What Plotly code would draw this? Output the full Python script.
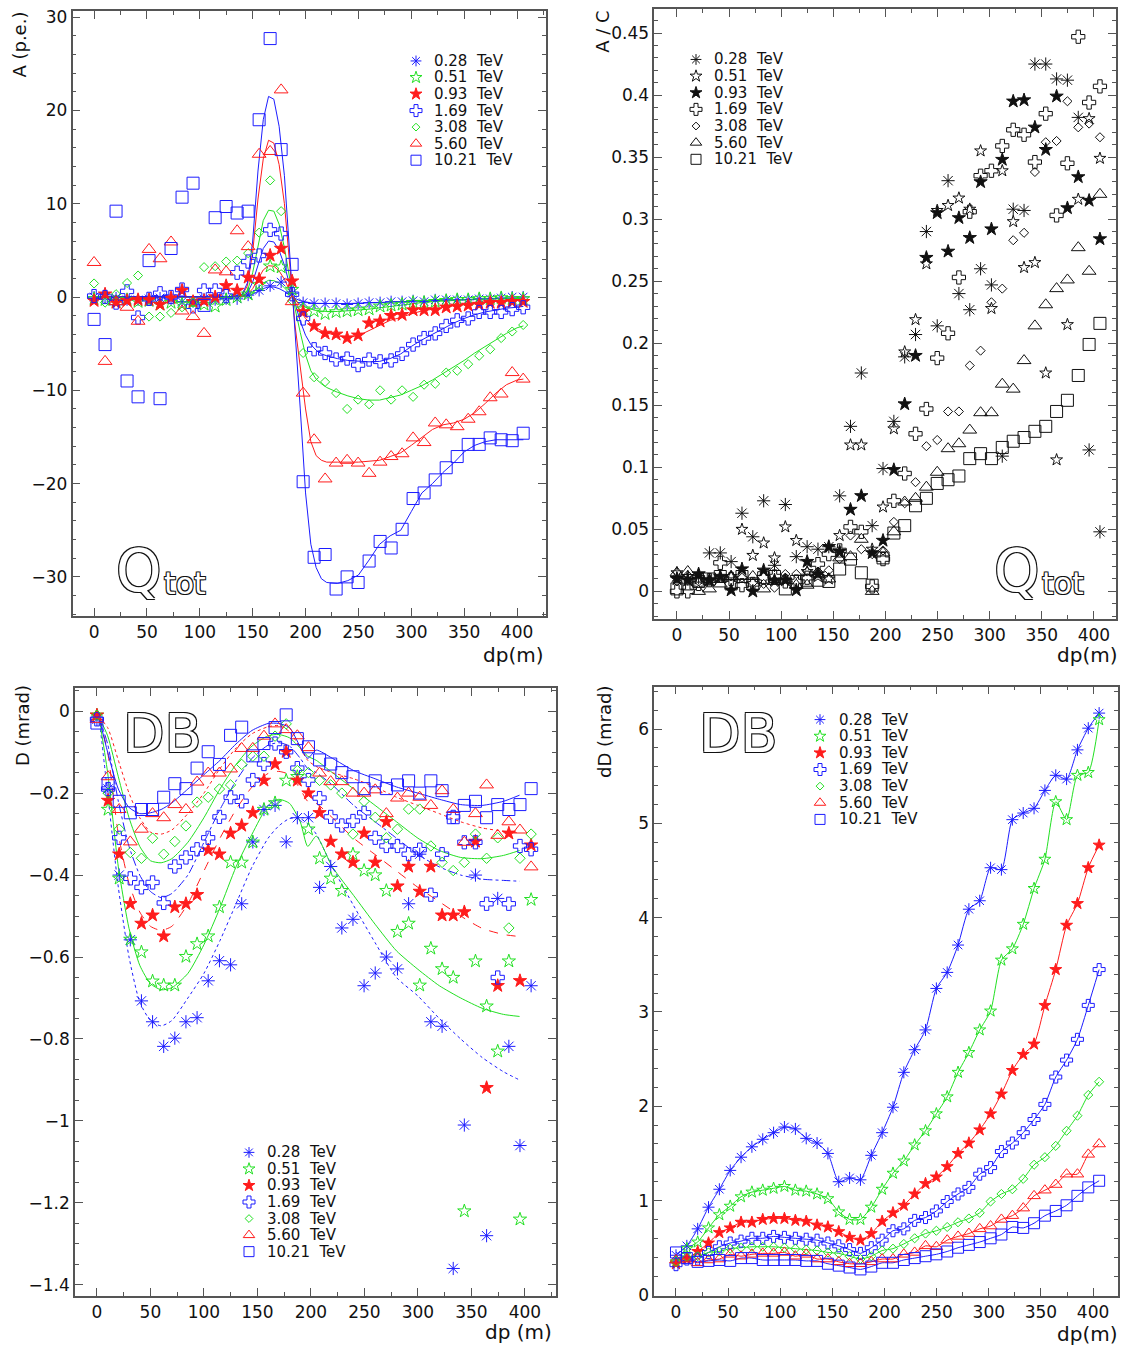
import plotly.graph_objects as go

# ---------------- data ----------------
X = [0, 10.4, 20.8, 31.2, 41.6, 52.0, 62.4, 72.8, 83.2, 93.6, 104.0, 114.5, 124.9, 135.3,
     145.7, 156.1, 166.5, 176.9, 187.3, 197.7, 208.1, 218.5, 228.9, 239.3, 249.7, 260.1,
     270.5, 280.9, 291.3, 301.7, 312.1, 322.6, 333.0, 343.4, 353.8, 364.2, 374.6, 385.0,
     395.4, 405.8]

LABELS = ["0.28  TeV", "0.51  TeV", "0.93  TeV", "1.69  TeV", "3.08  TeV", "5.60  TeV", "10.21  TeV"]

# Panel 1: A (p.e.) -- Qtot
A_028 = [0.0, -0.1, -0.1, -0.3, -0.3, -0.2, -0.1, -0.2, -0.5, -0.5, -0.2, -0.3, -0.2, -0.2, 0.2, 0.7, 1.2, 1.6, 0.4, -0.6,
         -0.7, -0.7, -0.7, -0.8, -0.7, -0.6, -0.6, -0.5, -0.5, -0.4, -0.5, -0.3, -0.3, -0.3, -0.3, -0.2, -0.2, -0.1, 0.0, 0.0]
A_051 = [-0.2, -0.3, -0.5, -0.3, -0.5, -0.4, -0.8, -0.6, -0.8, -0.6, -0.8, -1.0, -0.3, 0.0, 0.3, 1.3, 3.3, 3.2, 0.8, -1.3,
         -1.5, -1.8, -1.6, -1.5, -1.4, -1.3, -1.0, -0.9, -0.8, -0.6, -0.6, -0.5, -0.4, -0.3, -0.3, -0.2, -0.2, -0.1, -0.2, -0.2]
A_093 = [-0.4, 0.3, -0.6, -0.4, -0.3, -0.3, -0.8, -0.1, 0.7, -0.5, -0.4, 0.0, 1.2, 0.7, 2.1, 1.9, 4.45, 5.2, 1.7, -1.6,
         -3.1, -3.9, -4.0, -4.4, -4.1, -2.8, -2.6, -2.0, -1.9, -1.4, -1.4, -1.4, -1.1, -1.0, -0.9, -0.8, -0.6, -0.6, -0.5, -0.5]
A_169 = [0.1, 0.0, -0.6, 0.6, -2.2, -0.2, 0.4, 0.0, 0.8, -1.0, 0.7, 0.7, 0.1, 2.6, 3.8, 4.45, 7.2, 6.8, 0.3, -2.3,
         -5.6, -6.0, -6.7, -6.6, -7.3, -6.7, -6.9, -6.8, -6.1, -5.1, -4.4, -3.9, -3.1, -2.5, -2.3, -1.6, -1.6, -1.6, -1.3, -1.1]
A_308 = [1.45, -0.6, 0.3, 1.5, 2.3, -2.1, -2.1, -1.7, -1.1, -0.6, 3.2, 3.3, 3.8, 3.9, 4.7, 6.9, 12.5, 9.2, -0.4, -6.0,
         -8.6, -9.1, -10.3, -12.0, -11.0, -11.5, -10.0, -11.0, -10.0, -10.7, -9.4, -9.3, -8.1, -7.9, -7.2, -6.3, -5.6, -4.4, -3.7, -3.0]
A_560 = [3.7, -6.9, -0.5, -1.1, -2.6, 5.1, 4.1, 5.9, -1.5, -2.1, -3.9, 2.9, 2.7, 7.1, 5.4, 15.3, 15.6, 22.2, -0.5, -10.3,
         -15.3, -19.5, -17.8, -17.5, -17.8, -18.9, -17.7, -17.1, -16.8, -15.1, -15.6, -13.5, -13.7, -13.9, -13.1, -12.3, -10.8, -10.4, -8.1, -8.8]
A_1021 = [-2.4, -5.1, 9.2, -9.0, -10.7, 3.9, -10.9, 5.2, 10.7, 12.2, -0.9, 8.5, 9.7, 9.0, 9.2, 19.0, 27.7, 15.8, 3.5, -19.8,
          -27.9, -27.6, -31.3, -30.0, -30.6, -28.3, -26.2, -26.9, -24.9, -21.6, -21.0, -19.6, -18.3, -17.1, -15.8, -15.8, -15.1, -15.3, -15.4, -14.6]

FIT_A_X = [0, 50, 100, 120, 130, 140, 145, 150, 155, 160, 165, 170, 175, 180, 185, 190, 195, 200, 205, 210, 215,
           220, 230, 240, 250, 260, 270, 280, 290, 300, 310, 320, 330, 340, 350, 360, 370, 380, 390, 400, 406]
FA_028 = [0, 0, 0, 0, 0.0, 0.02, 0.1, 0.3, 0.6, 0.9, 1.08, 1.07, 0.9, 0.6, 0.2, -0.15, -0.4, -0.55, -0.63, -0.68, -0.7,
          -0.7, -0.7, -0.7, -0.66, -0.62, -0.57, -0.52, -0.47, -0.42, -0.37, -0.33, -0.29, -0.26, -0.23, -0.2, -0.18, -0.16, -0.14, -0.12, -0.1]
FA_051 = [0, 0, 0, 0, 0.0, 0.03, 0.15, 0.5, 1.0, 1.5, 1.78, 1.75, 1.5, 1.0, 0.35, -0.3, -0.8, -1.1, -1.3, -1.45, -1.5,
          -1.55, -1.55, -1.5, -1.4, -1.3, -1.15, -1.0, -0.85, -0.7, -0.6, -0.5, -0.42, -0.36, -0.3, -0.25, -0.22, -0.2, -0.18, -0.16, -0.15]
FA_093 = [0, 0, 0, 0, 0.01, 0.05, 0.25, 0.9, 1.9, 2.9, 3.35, 3.3, 2.8, 1.9, 0.7, -0.5, -1.5, -2.3, -2.9, -3.3, -3.6,
          -3.85, -4.15, -4.3, -4.15, -3.6, -3.0, -2.5, -2.2, -1.8, -1.5, -1.3, -1.1, -0.9, -0.75, -0.6, -0.5, -0.4, -0.35, -0.3, -0.3]
FA_169 = [0, 0, 0, 0, 0.02, 0.1, 0.4, 1.6, 3.5, 5.2, 6.0, 5.9, 5.0, 3.4, 1.3, -0.8, -2.6, -4.1, -5.1, -5.7, -6.1,
          -6.3, -6.6, -6.8, -6.9, -6.95, -6.9, -6.6, -6.1, -5.3, -4.6, -4.0, -3.4, -2.8, -2.3, -1.9, -1.6, -1.4, -1.2, -1.1, -1.0]
FA_308 = [0, 0, 0, 0, 0.02, 0.1, 0.6, 2.6, 5.6, 8.2, 9.3, 9.2, 7.8, 5.3, 2.0, -1.2, -3.8, -6.2, -7.9, -8.8, -9.3,
          -9.7, -10.2, -10.6, -10.9, -11.05, -11.05, -10.8, -10.5, -10.0, -9.5, -8.9, -8.2, -7.5, -6.8, -6.0, -5.3, -4.6, -3.9, -3.3, -3.1]
FA_560 = [0, 0, 0, 0, 0.03, 0.2, 1.2, 4.8, 10.5, 14.8, 16.8, 16.5, 14.2, 10.0, 3.8, -3.0, -7.5, -12.0, -15.5, -17.0, -17.5,
          -17.7, -17.7, -17.7, -17.7, -17.6, -17.5, -17.1, -16.7, -15.9, -15.0, -14.2, -13.7, -13.5, -13.1, -12.4, -11.4, -10.3, -9.4, -8.9, -8.8]
FA_1021 = [0, 0, 0, 0, 0.05, 0.3, 1.5, 6.0, 13.5, 19.0, 21.5, 21.2, 18.3, 13.0, 5.0, -3.0, -12.0, -21.0, -26.5, -29.0, -30.2,
           -30.6, -30.7, -30.4, -29.8, -28.2, -26.5, -25.6, -25.0, -23.0, -21.0, -20.0, -18.8, -17.8, -16.6, -15.9, -15.5, -15.3, -15.3, -15.3, -15.3]

# Panel 2: A / C -- Qtot
AC_028 = [0.012, 0.010, 0.011, 0.031, 0.031, 0.024, 0.063, 0.044, 0.073, 0.021, 0.070, 0.028, 0.036, 0.034, 0.036, 0.077, 0.133, 0.176, 0.053, 0.099,
          0.137, 0.189, 0.207, 0.290, 0.214, 0.331, 0.240, 0.227, 0.260, 0.247, 0.109, 0.308, 0.307, 0.425, 0.425, 0.413, 0.412, 0.382, 0.114, 0.048]
AC_051 = [0.015, 0.012, 0.010, 0.009, 0.011, 0.012, 0.050, 0.029, 0.039, 0.027, 0.052, 0.041, 0.016, 0.012, 0.010, 0.045, 0.118, 0.118, 0.034, 0.068,
          0.131, 0.193, 0.219, 0.264, 0.307, 0.311, 0.317, 0.308, 0.355, 0.228, 0.339, 0.298, 0.261, 0.265, 0.176, 0.106, 0.215, 0.316, 0.381, 0.349]
AC_093 = [0.010, 0.009, 0.014, 0.009, 0.012, 0.001, 0.018, 0.000, 0.017, 0.009, 0.009, 0.001, 0.024, 0.014, 0.036, 0.032, 0.066, 0.077, 0.031, 0.041,
          0.098, 0.151, 0.190, 0.269, 0.305, 0.274, 0.301, 0.285, 0.330, 0.292, 0.348, 0.395, 0.396, 0.374, 0.356, 0.399, 0.309, 0.334, 0.315, 0.284]
AC_169 = [0.000, 0.000, 0.006, 0.009, 0.023, 0.010, 0.005, 0.006, 0.011, 0.012, 0.008, 0.008, 0.011, 0.022, 0.030, 0.033, 0.052, 0.048, 0.004, 0.026,
          0.073, 0.095, 0.127, 0.147, 0.188, 0.208, 0.253, 0.306, 0.335, 0.339, 0.359, 0.372, 0.368, 0.346, 0.385, 0.303, 0.345, 0.447, 0.394, 0.407]
AC_308 = [0.008, 0.013, 0.008, 0.009, 0.011, 0.012, 0.011, 0.007, 0.006, 0.003, 0.014, 0.014, 0.016, 0.016, 0.017, 0.026, 0.045, 0.034, 0.030, 0.033,
          0.056, 0.071, 0.088, 0.117, 0.122, 0.145, 0.145, 0.182, 0.194, 0.233, 0.244, 0.283, 0.289, 0.338, 0.362, 0.363, 0.395, 0.374, 0.377, 0.366]
AC_560 = [0.015, 0.016, 0.000, 0.002, 0.006, 0.012, 0.012, 0.012, 0.002, 0.008, 0.010, 0.005, 0.005, 0.014, 0.010, 0.027, 0.028, 0.042, 0.000, 0.031,
          0.048, 0.072, 0.075, 0.084, 0.096, 0.115, 0.119, 0.130, 0.144, 0.144, 0.167, 0.163, 0.186, 0.214, 0.231, 0.244, 0.251, 0.277, 0.258, 0.320]
AC_1021 = [0.002, 0.006, 0.008, 0.010, 0.012, 0.006, 0.012, 0.006, 0.011, 0.012, 0.002, 0.008, 0.009, 0.009, 0.008, 0.018, 0.026, 0.015, 0.005, 0.027,
           0.047, 0.053, 0.069, 0.075, 0.087, 0.090, 0.093, 0.107, 0.111, 0.107, 0.116, 0.121, 0.124, 0.129, 0.133, 0.145, 0.154, 0.174, 0.199, 0.216]

# Panel 3: D (mrad) -- DB
D_028 = [-0.02, -0.19, -0.40, -0.558, -0.707, -0.758, -0.818, -0.798, -0.758, -0.748, -0.658, -0.609, -0.619, -0.470, -0.319, -0.240, -0.230, -0.319, -0.260, -0.260,
         -0.430, -0.379, -0.529, -0.508, -0.670, -0.639, -0.60, -0.629, -0.470, -0.349, -0.758, -0.769, -1.36, -1.01, -0.40, -1.28, -0.457, -0.818, -1.06, -0.67]
D_051 = [-0.01, -0.24, -0.408, -0.557, -0.588, -0.659, -0.669, -0.669, -0.599, -0.568, -0.549, -0.478, -0.369, -0.369, -0.32, -0.24, -0.224, -0.169, -0.16, -0.288,
         -0.359, -0.408, -0.438, -0.349, -0.389, -0.40, -0.438, -0.538, -0.518, -0.669, -0.579, -0.629, -0.65, -1.22, -0.61, -0.72, -0.83, -0.61, -1.24, -0.46]
D_093 = [-0.01, -0.218, -0.349, -0.47, -0.518, -0.498, -0.549, -0.478, -0.47, -0.448, -0.339, -0.349, -0.298, -0.279, -0.248, -0.169, -0.129, -0.099, -0.169, -0.20,
         -0.248, -0.318, -0.349, -0.369, -0.298, -0.369, -0.27, -0.427, -0.379, -0.44, -0.379, -0.498, -0.498, -0.49, -0.318, -0.919, -0.67, -0.298, -0.658, -0.327]
D_169 = [-0.02, -0.19, -0.309, -0.408, -0.43, -0.418, -0.468, -0.379, -0.357, -0.337, -0.309, -0.258, -0.21, -0.22, -0.168, -0.129, -0.079, -0.099, -0.139, -0.168,
         -0.212, -0.258, -0.279, -0.268, -0.248, -0.309, -0.329, -0.329, -0.349, -0.338, -0.448, -0.349, -0.258, -0.32, -0.32, -0.47, -0.65, -0.47, -0.329, -0.337]
D_308 = [-0.01, -0.2, -0.288, -0.345, -0.359, -0.31, -0.349, -0.318, -0.28, -0.222, -0.21, -0.19, -0.18, -0.13, -0.11, -0.11, -0.061, -0.031, -0.145, -0.15,
         -0.169, -0.18, -0.2, -0.30, -0.22, -0.259, -0.309, -0.288, -0.239, -0.239, -0.329, -0.369, -0.389, -0.369, -0.30, -0.359, -0.309, -0.529, -0.359, -0.30]
D_560 = [-0.02, -0.16, -0.24, -0.319, -0.288, -0.25, -0.26, -0.228, -0.24, -0.173, -0.151, -0.151, -0.141, -0.091, -0.091, -0.061, -0.031, -0.045, -0.06, -0.089,
         -0.151, -0.172, -0.172, -0.2, -0.2, -0.192, -0.25, -0.212, -0.2, -0.21, -0.23, -0.194, -0.24, -0.32, -0.25, -0.18, -0.303, -0.27, -0.29, -0.38]
D_1021 = [-0.029, -0.177, -0.22, -0.248, -0.24, -0.24, -0.21, -0.177, -0.189, -0.139, -0.099, -0.13, -0.059, -0.039, -0.109, -0.079, -0.04, -0.009, -0.067, -0.087,
          -0.119, -0.129, -0.15, -0.16, -0.189, -0.17, -0.189, -0.18, -0.17, -0.2, -0.17, -0.194, -0.26, -0.23, -0.22, -0.26, -0.228, -0.24, -0.228, -0.189]

FIT_D_X = [2, 10, 20, 30, 40, 50, 60, 70, 85, 100, 115, 130, 145, 160, 170, 180, 190, 197, 205, 220, 240, 260, 280, 300, 320, 340, 360, 380, 395]
FD_028 = [-0.015, -0.2, -0.43, -0.6, -0.71, -0.755, -0.768, -0.755, -0.70, -0.64, -0.56, -0.47, -0.38, -0.31, -0.28, -0.262, -0.262, -0.275, -0.30,
          -0.38, -0.475, -0.565, -0.65, -0.695, -0.75, -0.80, -0.845, -0.88, -0.90]
FD_051 = [-0.015, -0.15, -0.38, -0.53, -0.62, -0.665, -0.68, -0.675, -0.64, -0.57, -0.48, -0.38, -0.30, -0.23, -0.215, -0.225, -0.27, -0.33, -0.305,
          -0.38, -0.45, -0.52, -0.585, -0.63, -0.67, -0.70, -0.725, -0.74, -0.745]
FD_093 = [-0.015, -0.1, -0.3, -0.42, -0.49, -0.525, -0.535, -0.525, -0.47, -0.39, -0.31, -0.24, -0.185, -0.152, -0.147, -0.155, -0.19, -0.22, -0.225,
          -0.26, -0.31, -0.35, -0.39, -0.43, -0.465, -0.50, -0.53, -0.545, -0.55]
FD_169 = [-0.015, -0.08, -0.22, -0.33, -0.40, -0.44, -0.455, -0.445, -0.40, -0.32, -0.24, -0.17, -0.115, -0.083, -0.077, -0.085, -0.115, -0.14, -0.15,
          -0.18, -0.23, -0.27, -0.31, -0.35, -0.38, -0.40, -0.41, -0.413, -0.415]
FD_308 = [-0.015, -0.06, -0.16, -0.26, -0.33, -0.365, -0.37, -0.36, -0.32, -0.26, -0.19, -0.13, -0.085, -0.06, -0.057, -0.065, -0.09, -0.11, -0.12,
          -0.15, -0.19, -0.23, -0.27, -0.31, -0.34, -0.357, -0.36, -0.352, -0.34]
FD_560 = [-0.015, -0.04, -0.12, -0.2, -0.26, -0.295, -0.30, -0.29, -0.25, -0.2, -0.14, -0.09, -0.055, -0.038, -0.035, -0.05, -0.09, -0.12, -0.135,
          -0.15, -0.165, -0.185, -0.21, -0.23, -0.25, -0.27, -0.285, -0.293, -0.297]
FD_1021 = [-0.015, -0.1, -0.19, -0.235, -0.25, -0.248, -0.24, -0.224, -0.19, -0.155, -0.12, -0.08, -0.047, -0.03, -0.03, -0.04, -0.087, -0.115, -0.095,
           -0.115, -0.145, -0.165, -0.185, -0.2, -0.215, -0.228, -0.23, -0.22, -0.205]

# Panel 4: dD (mrad) -- DB
DD_028 = [0.42, 0.52, 0.70, 0.93, 1.12, 1.32, 1.46, 1.57, 1.65, 1.72, 1.78, 1.76, 1.66, 1.61, 1.50, 1.20, 1.24, 1.22, 1.48, 1.72,
          1.99, 2.36, 2.60, 2.81, 3.25, 3.42, 3.71, 4.09, 4.18, 4.53, 4.51, 5.04, 5.11, 5.16, 5.35, 5.51, 5.47, 5.78, 6.01, 6.17]
DD_051 = [0.35, 0.49, 0.56, 0.71, 0.85, 0.94, 1.04, 1.09, 1.11, 1.13, 1.15, 1.11, 1.10, 1.07, 1.02, 0.88, 0.80, 0.80, 0.93, 1.12,
          1.29, 1.42, 1.59, 1.74, 1.92, 2.10, 2.36, 2.57, 2.81, 3.01, 3.55, 3.67, 3.93, 4.31, 4.62, 5.23, 5.04, 5.51, 5.54, 6.10]
DD_093 = [0.33, 0.38, 0.46, 0.55, 0.66, 0.71, 0.77, 0.77, 0.80, 0.81, 0.81, 0.79, 0.78, 0.74, 0.72, 0.67, 0.61, 0.58, 0.65, 0.78,
          0.87, 0.95, 1.07, 1.18, 1.25, 1.36, 1.50, 1.61, 1.75, 1.92, 2.13, 2.38, 2.55, 2.66, 3.07, 3.45, 3.92, 4.15, 4.53, 4.77]
DD_169 = [0.32, 0.38, 0.38, 0.45, 0.51, 0.55, 0.57, 0.60, 0.60, 0.62, 0.61, 0.60, 0.59, 0.58, 0.55, 0.52, 0.48, 0.44, 0.50, 0.58,
          0.68, 0.70, 0.79, 0.82, 0.89, 0.99, 1.07, 1.14, 1.28, 1.35, 1.52, 1.61, 1.72, 1.86, 2.02, 2.31, 2.49, 2.71, 3.07, 3.45]
DD_308 = [0.35, 0.40, 0.41, 0.45, 0.46, 0.49, 0.50, 0.51, 0.51, 0.51, 0.50, 0.49, 0.48, 0.47, 0.45, 0.44, 0.41, 0.38, 0.41, 0.47,
          0.49, 0.54, 0.60, 0.65, 0.68, 0.72, 0.77, 0.81, 0.87, 0.99, 1.07, 1.12, 1.23, 1.38, 1.46, 1.58, 1.74, 1.90, 2.12, 2.26]
DD_560 = [0.37, 0.38, 0.34, 0.37, 0.38, 0.43, 0.41, 0.43, 0.44, 0.44, 0.45, 0.41, 0.43, 0.38, 0.38, 0.35, 0.33, 0.33, 0.35, 0.38,
          0.38, 0.43, 0.45, 0.52, 0.51, 0.58, 0.62, 0.65, 0.70, 0.73, 0.80, 0.84, 0.92, 1.05, 1.11, 1.17, 1.28, 1.28, 1.49, 1.60]
DD_1021 = [0.45, 0.39, 0.35, 0.36, 0.37, 0.36, 0.39, 0.39, 0.37, 0.37, 0.37, 0.37, 0.36, 0.36, 0.33, 0.31, 0.29, 0.27, 0.30, 0.34,
           0.34, 0.37, 0.39, 0.41, 0.43, 0.46, 0.50, 0.53, 0.56, 0.60, 0.64, 0.72, 0.71, 0.76, 0.84, 0.89, 0.95, 1.05, 1.14, 1.21]

# ---------------- styles ----------------
W, H = 1125, 1357
BLUE, GREEN, RED, BLACK = "#1c1cff", "#22e022", "#ff1c1c", "#111111"
COLORS = [BLUE, GREEN, RED, BLUE, GREEN, RED, BLUE]
SYMBOLS = ["asterisk-open", "star-open", "star", "cross-open", "diamond-open", "triangle-up-open", "square-open"]
FIT_DASH_D = ["dot", "solid", "dash", "dashdot", "solid", "dot", "solid"]
FONT = "DejaVu Sans"
FRAME = "#555555"

fig = go.Figure()


def add_markers(series, xa, ya, colors, sizes):
    for k, ys in enumerate(series):
        fig.add_trace(go.Scatter(
            x=X, y=ys, mode="markers", xaxis=xa, yaxis=ya, showlegend=False, hoverinfo="skip",
            marker=dict(symbol=SYMBOLS[k], size=sizes[k], color=colors[k],
                        line=dict(width=1, color=colors[k]))))


def add_lines(xs, series, xa, ya, colors, dashes, shape="linear"):
    for k, ys in enumerate(series):
        fig.add_trace(go.Scatter(
            x=xs, y=ys, mode="lines", xaxis=xa, yaxis=ya, showlegend=False, hoverinfo="skip",
            line=dict(color=colors[k], width=1, dash=dashes[k], shape=shape,
                      smoothing=0.6 if shape == "spline" else None)))


# Panel 1
add_lines(FIT_A_X, [FA_028, FA_051, FA_093, FA_169, FA_308, FA_560, FA_1021], "x", "y", COLORS, ["solid"] * 7)
add_markers([A_028, A_051, A_093, A_169, A_308, A_560, A_1021], "x", "y", COLORS, [10, 10, 10, 11, 7, 12, 12])
# Panel 2
add_markers([AC_028, AC_051, AC_093, AC_169, AC_308, AC_560, AC_1021], "x2", "y2", [BLACK] * 7, [11, 9, 10, 11, 7, 12, 12])
# Panel 3
add_lines(FIT_D_X, [FD_028, FD_051, FD_093, FD_169, FD_308, FD_560, FD_1021], "x3", "y3", COLORS, FIT_DASH_D, "spline")
add_markers([D_028, D_051, D_093, D_169, D_308, D_560, D_1021], "x3", "y3", COLORS, [11, 10, 10, 11, 8, 12, 12])
# Panel 4
DD_ALL = [DD_028, DD_051, DD_093, DD_169, DD_308, DD_560, DD_1021]
add_lines(X, DD_ALL, "x4", "y4", COLORS, ["solid"] * 7, "spline")
add_markers(DD_ALL, "x4", "y4", COLORS, [10, 9, 9, 10, 7, 11, 11])

# ---------------- legends (overlay pixel axis) ----------------
LEGENDS = [  # marker x, text x, first row y, row step, colors
    (416, 432, 57.5, 16.7, COLORS),
    (696, 712, 56.0, 16.8, [BLACK] * 7),
    (249, 265, 1159.5, 16.7, COLORS),
    (820, 837, 722.5, 16.8, COLORS),
]
annotations = []
for mx, tx, y0, dy, cols in LEGENDS:
    ys = [y0 + dy * k for k in range(7)]
    for k in range(7):
        fig.add_trace(go.Scatter(
            x=[mx], y=[ys[k]], mode="markers", xaxis="x5", yaxis="y5", showlegend=False, hoverinfo="skip",
            marker=dict(symbol=SYMBOLS[k], size=[9, 9, 9, 10, 6, 10, 10][k], color=cols[k],
                        line=dict(width=1, color=cols[k]))))
        annotations.append(dict(x=tx / W, y=1 - ys[k] / H, xref="paper", yref="paper", xanchor="left",
                                yanchor="middle", showarrow=False, text=LABELS[k].replace("  ", "\u00a0 "),
                                font=dict(family=FONT, size=15, color="#111")))


def ann(text, x, y, size, xanchor="center", yanchor="middle", angle=0, outline=False):
    f = dict(family=FONT, size=size, color="#111")
    if outline:
        f = dict(family=FONT, size=size, color="white",
                 shadow="1px 1px 0 #111, -1px -1px 0 #111, 1px -1px 0 #111, -1px 1px 0 #111")
    annotations.append(dict(x=x / W, y=1 - y / H, xref="paper", yref="paper", text=text, showarrow=False,
                            xanchor=xanchor, yanchor=yanchor, textangle=angle, font=f))


# axis titles
ann("A (p.e.)", 20, 41, 18, angle=-90)
ann("A / C", 603, 28, 18, angle=-90)
ann("D (mrad)", 22, 729, 18, angle=-90)
ann("dD (mrad)", 605, 735, 18, angle=-90)
ann("dp(m)", 545, 657, 20, xanchor="right")
ann("dp(m)", 1119, 657, 20, xanchor="right")
ann("dp (m)", 554, 1341, 20, xanchor="right")
ann("dp(m)", 1119, 1343, 20, xanchor="right")
# panel labels
ann("Q", 139, 572, 58, outline=True)
ann("tot", 162, 585, 30, xanchor="left", outline=True)
ann("Q", 1017, 572, 58, outline=True)
ann("tot", 1040, 585, 30, xanchor="left", outline=True)
ann("DB", 162, 737, 54, outline=True)
ann("DB", 738, 737, 54, outline=True)


def axis(domain, rng, dtick, minor, anchor):
    return dict(domain=domain, range=rng, anchor=anchor, dtick=dtick, tick0=0,
                showline=True, linecolor=FRAME, linewidth=1.5, mirror="allticks",
                ticks="inside", ticklen=8, tickwidth=1, tickcolor=FRAME,
                minor=dict(ticks="inside", ticklen=4, dtick=minor, tick0=0, tickcolor=FRAME, tickwidth=1),
                showgrid=False, zeroline=False,
                tickfont=dict(family=FONT, size=17, color="#111"))


fig.update_layout(
    width=W, height=H, margin=dict(l=0, r=0, t=0, b=0),
    paper_bgcolor="white", plot_bgcolor="rgba(0,0,0,0)", showlegend=False,
    xaxis=axis([72.6 / W, 545.6 / W], [-20.3, 427], 50, 25, "y"),
    yaxis=axis([1 - 618 / H, 1 - 7.3 / H], [-34.2, 30.63], 10, 2, "x"),
    xaxis2=axis([654.2 / W, 1116 / W], [-21.8, 421.2], 50, 25, "y2"),
    yaxis2=axis([1 - 621 / H, 1 - 5 / H], [-0.0223, 0.4694], 0.05, 0.01, "x2"),
    xaxis3=axis([75 / W, 555.5 / W], [-20.5, 428.6], 50, 25, "y3"),
    yaxis3=axis([1 - 1304 / H, 1 - 691 / H], [-1.426, 0.0556], 0.2, 0.05, "x3"),
    xaxis4=axis([654.3 / W, 1118 / W], [-20.8, 423.9], 50, 25, "y4"),
    yaxis4=axis([1 - 1304.3 / H, 1 - 689.3 / H], [-0.01, 6.45], 1, 0.2, "x4"),
    xaxis5=dict(domain=[0, 1], range=[0, W], visible=False, anchor="y5", fixedrange=True),
    yaxis5=dict(domain=[0, 1], range=[H, 0], visible=False, anchor="x5", fixedrange=True),
    annotations=annotations,
)

fig.write_html("out.html", config={"displayModeBar": False},
               post_script="document.body.style.margin='0px';document.body.style.overflow='hidden';")
